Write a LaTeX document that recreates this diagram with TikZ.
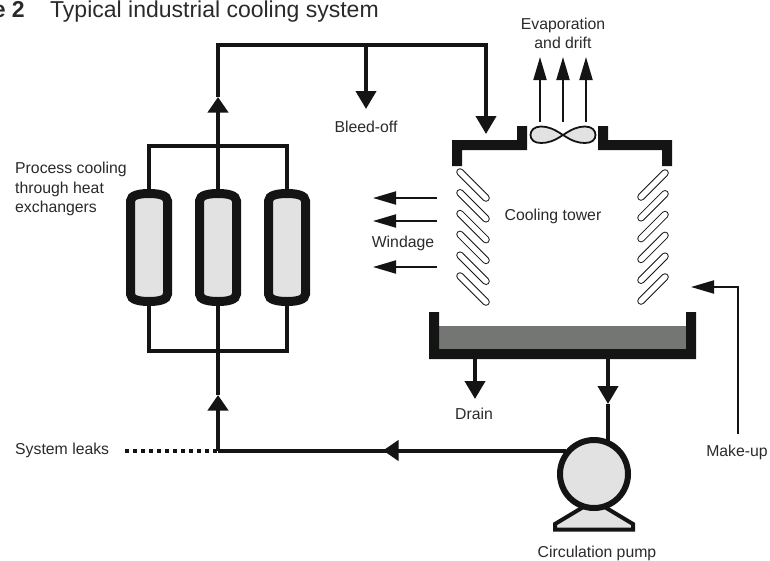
\documentclass[tikz,border=0pt]{standalone}
\usepackage{fontspec}
\setmainfont{Liberation Sans}
\usetikzlibrary{arrows.meta}
\definecolor{ink}{HTML}{141414}
\definecolor{pale}{HTML}{E1E2E1}
\definecolor{water}{HTML}{747674}
\definecolor{lbltxt}{HTML}{2A2A2A}
\tikzset{
  pipe/.style={draw=ink,line width=4pt},
  manifold/.style={draw=ink,line width=3.5pt},
  thinline/.style={draw=ink,line width=2pt},
  bigtip/.style={-{Triangle[length=18pt,width=20pt]}},
  midtip/.style={-{Triangle[length=15.5pt,width=20pt]}},
  smalltip/.style={-{Triangle[length=23pt,width=13pt]}},
  wall/.style={fill=ink,draw=none},
  exch/.style={draw=ink,fill=pale,line width=9pt},
  louvre/.style={draw=ink,double=white,double distance=5.5pt,line width=1pt,line cap=round},
  lbl/.style={font=\fontsize{15.8}{19.5}\selectfont,text=lbltxt,inner sep=0pt,align=center},
  titletxt/.style={font=\fontsize{23}{27}\selectfont,text=lbltxt,inner sep=0pt,anchor=base west}
}
\begin{document}
\begin{tikzpicture}[line join=miter,x=1pt,y=-1pt]
\clip (0,0) rectangle (770,560);
% title
\node[titletxt,anchor=base east,font=\fontsize{23}{27}\selectfont\bfseries] (figno) at (25,17) {e 2};
\node[titletxt] (title) at (50,17) {Typical industrial cooling system};
% points on the pipes
\coordinate (topleft) at (218,45);
\coordinate (topright) at (486,45);
\coordinate (towerin) at (486,134);
\coordinate (bleedtop) at (366,45);
\coordinate (bleedend) at (366,109);
\coordinate (uptip) at (218,97);
\coordinate (mantop) at (218,146);
\coordinate (manbot) at (218,351);
\coordinate (lowtip) at (218,395);
\coordinate (corner) at (218,450.5);
\coordinate (lefttip) at (383,450.5);
\coordinate (pumpin) at (566,450.5);
\coordinate (leakend) at (125,450.5);
\coordinate (tanktap) at (608,359);
\coordinate (pumptip) at (608,404);
\coordinate (pumptop) at (608,442);
\coordinate (draintop) at (475,359);
\coordinate (drainend) at (475,399);
% main loop
\draw[pipe] (manbot) -- (lowtip);
\draw[pipe,midtip] (corner) -- (lowtip);
\draw[pipe,midtip] (mantop) -- (uptip);
\draw[pipe,bigtip] (uptip) -- (topleft) -- (topright) -- (towerin);
\draw[pipe,bigtip] (bleedtop) -- (bleedend);
\draw[pipe] (corner) -- (pumpin);
\draw[pipe,midtip] (pumpin) -- (lefttip);
\draw[draw=ink,line width=4pt,dash pattern=on 4pt off 4pt] (leakend) -- (corner);
% heat exchangers
\draw[manifold] (149,189) -- (149,146) -- (287,146) -- (287,189);
\draw[manifold] (149,306) -- (149,351) -- (287,351) -- (287,306);
\draw[pipe] (mantop) -- (manbot);
\draw[exch] (130.5,201) .. controls (130.5,195) and (140,193.5) .. (149,193.5) .. controls (158,193.5) and (167.5,195) .. (167.5,201) -- (167.5,294) .. controls (167.5,300) and (158,301.5) .. (149,301.5) .. controls (140,301.5) and (130.5,300) .. (130.5,294) -- cycle;
\draw[exch] (199.5,201) .. controls (199.5,195) and (209,193.5) .. (218,193.5) .. controls (227,193.5) and (236.5,195) .. (236.5,201) -- (236.5,294) .. controls (236.5,300) and (227,301.5) .. (218,301.5) .. controls (209,301.5) and (199.5,300) .. (199.5,294) -- cycle;
\draw[exch] (268.5,201) .. controls (268.5,195) and (278,193.5) .. (287,193.5) .. controls (296,193.5) and (305.5,195) .. (305.5,201) -- (305.5,294) .. controls (305.5,300) and (296,301.5) .. (287,301.5) .. controls (278,301.5) and (268.5,300) .. (268.5,294) -- cycle;
% tower roof
\fill[wall] (452,166) -- (452,140) -- (517,140) -- (517,126) -- (527,126) -- (527,150) -- (462,150) -- (462,166) -- cycle;
\fill[wall] (672,166) -- (672,140) -- (608,140) -- (608,126) -- (598,126) -- (598,150) -- (662,150) -- (662,166) -- cycle;
% fan
\draw[draw=ink,fill=pale,line width=1.8pt] (563,135) .. controls (554,129) and (548,126.5) .. (541,126.5) .. controls (534,126.5) and (530.5,130.5) .. (530.5,135) .. controls (530.5,139.5) and (534,143) .. (541,143) .. controls (548,143) and (554,141) .. (563,135) .. controls (572,129) and (578,126.5) .. (585,126.5) .. controls (592,126.5) and (595.5,130.5) .. (595.5,135) .. controls (595.5,139.5) and (592,143) .. (585,143) .. controls (578,143) and (572,141) .. (563,135) -- cycle;
\coordinate (evapa) at (540,122);
\coordinate (evapb) at (563,122);
\coordinate (evapc) at (586,122);
\coordinate (evapatip) at (540,57);
\coordinate (evapbtip) at (563,57);
\coordinate (evapctip) at (586,57);
\draw[thinline,smalltip] (evapa) -- (evapatip);
\draw[thinline,smalltip] (evapb) -- (evapbtip);
\draw[thinline,smalltip] (evapc) -- (evapctip);
% left louvres
\draw[louvre] (460,172) -- (486,198);
\draw[louvre] (460,192.8) -- (486,218.8);
\draw[louvre] (460,213.6) -- (486,239.6);
\draw[louvre] (460,234.4) -- (486,260.4);
\draw[louvre] (460,255.2) -- (486,281.2);
\draw[louvre] (460,276) -- (486,302);
% right louvres
\draw[louvre] (641,197) -- (665,173);
\draw[louvre] (641,217.8) -- (665,193.8);
\draw[louvre] (641,238.6) -- (665,214.6);
\draw[louvre] (641,259.4) -- (665,235.4);
\draw[louvre] (641,280.2) -- (665,256.2);
\draw[louvre] (641,301) -- (665,277);
% windage
\coordinate (winda) at (437,198);
\coordinate (windb) at (437,221);
\coordinate (windc) at (437,267);
\coordinate (windatip) at (373,198);
\coordinate (windbtip) at (373,221);
\coordinate (windctip) at (373,267);
\draw[thinline,smalltip] (winda) -- (windatip);
\draw[thinline,smalltip] (windb) -- (windbtip);
\draw[thinline,smalltip] (windc) -- (windctip);
% tank
\fill[water] (439,326) rectangle (686,349);
\fill[wall] (429,312) -- (439,312) -- (439,349) -- (686,349) -- (686,312) -- (696,312) -- (696,359) -- (429,359) -- cycle;
\draw[pipe,bigtip] (draintop) -- (drainend);
\draw[pipe,bigtip] (tanktap) -- (pumptip);
\draw[pipe] (pumptip) -- (pumptop);
% pump
\draw[draw=ink,fill=pale,line width=4pt] (555,529.5) -- (555,524) -- (590,503) -- (598,503) -- (633,524) -- (633,529.5) -- cycle;
\draw[draw=ink,fill=pale,line width=6pt] (594,474) circle (34);
% make-up
\coordinate (makebot) at (738,434);
\coordinate (makebend) at (738,287);
\coordinate (maketip) at (691,287);
\draw[thinline,smalltip] (makebot) -- (makebend) -- (maketip);
% labels
\node[lbl] (evaplbl) at (563,33.5) {Evaporation\\and drift};
\node[lbl] (bleedlbl) at (366,127) {Bleed-off};
\node[lbl,align=left,anchor=west] (proclbl) at (15,189) {Process cooling\\through heat\\exchangers};
\node[lbl] (towerlbl) at (553,216) {Cooling tower};
\node[lbl] (windlbl) at (403,243) {Windage};
\node[lbl] (drainlbl) at (474,414) {Drain};
\node[lbl,anchor=west] (leaklbl) at (15,450) {System leaks};
\node[lbl] (makelbl) at (737,452) {Make-up};
\node[lbl] (pumplbl) at (597,553) {Circulation pump};
\end{tikzpicture}
\end{document}
